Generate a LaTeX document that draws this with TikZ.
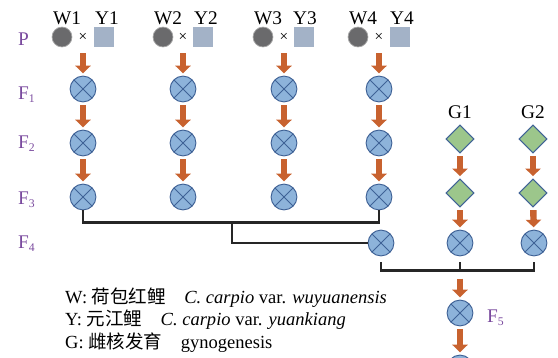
\documentclass[tikz,border=0pt]{standalone}
\usepackage{fontspec}
\setmainfont{Liberation Serif}
\newfontfamily\cjk{Noto Sans CJK SC}
\usepackage{xcolor}
\usepackage{tikz}
\usetikzlibrary{shapes,arrows}
\usetikzlibrary{positioning}
\usetikzlibrary{calc}
\usetikzlibrary{arrows.meta}
\definecolor{xofill}{HTML}{8DB3DA}
\definecolor{xoline}{HTML}{3F6296}
\definecolor{wildc}{HTML}{6A6A6C}
\definecolor{yuanc}{HTML}{A3B2C7}
\definecolor{gynoc}{HTML}{9CC68B}
\definecolor{arrc}{HTML}{C8622F}
\definecolor{genc}{HTML}{7A4A9E}
\newcommand{\gsub}[1]{\raisebox{-0.35ex}{\fontsize{10}{11}\selectfont #1}}
\tikzset{>=stealth}

\begin{document}
\begin{tikzpicture}
	[x=0.03cm,y=-0.03cm,inner sep=0pt,
	hybrid/.style={circle,draw=xoline,fill=xofill,line width=0.8pt,minimum size=22pt,
		path picture={\draw[xoline,line width=0.8pt]
			(path picture bounding box.north west)--(path picture bounding box.south east)
			(path picture bounding box.north east)--(path picture bounding box.south west);}},
	wild/.style={circle,draw=gray!70,fill=wildc,line width=0.6pt,minimum size=17pt},
	yuan/.style={rectangle,fill=yuanc,minimum size=17pt},
	gyno/.style={diamond,draw=xoline,fill=gynoc,line width=0.8pt,minimum size=24pt},
	times/.style={font=\fontsize{13}{14}\selectfont,minimum size=17pt},
	fish/.style={font=\fontsize{16.5}{18}\selectfont},
	gen/.style={anchor=base west,text=genc,font=\fontsize{16.5}{18}\selectfont},
	fwd/.style={draw=arrc,line width=5.5pt,-{Triangle[width=13pt,length=6.5pt]},
		shorten <=2.5pt,shorten >=2pt},
	bracket/.style={draw=black!85,line width=2pt}]
	\clip (0,0) rectangle (558,357);
	% parents
	\node [wild] (w1) at (62,37) {};
	\node [times] (x1) at (83,37) {×};
	\node [yuan] (y1) at (104,37) {};
	\node [wild] (w2) at (163,37) {};
	\node [times] (x2) at (183,37) {×};
	\node [yuan] (y2) at (203,37) {};
	\node [wild] (w3) at (263,37) {};
	\node [times] (x3) at (284,37) {×};
	\node [yuan] (y3) at (304,37) {};
	\node [wild] (w4) at (358,37) {};
	\node [times] (x4) at (379,37) {×};
	\node [yuan] (y4) at (400,37) {};
	\node [fish] (tw1) at (67,18) {W1};
	\node [fish] (ty1) at (107,18) {Y1};
	\node [fish] (tw2) at (168,18) {W2};
	\node [fish] (ty2) at (206,18) {Y2};
	\node [fish] (tw3) at (268,18) {W3};
	\node [fish] (ty3) at (305,18) {Y3};
	\node [fish] (tw4) at (363,18) {W4};
	\node [fish] (ty4) at (402,18) {Y4};
	% generations
	\node [gen] (gp) at (18,45) {P};
	\node [gen] (g1) at (18,99) {F\gsub{1}};
	\node [gen] (g2) at (18,148) {F\gsub{2}};
	\node [gen] (g3) at (18,204) {F\gsub{3}};
	\node [gen] (g4) at (18,248) {F\gsub{4}};
	\node [gen] (g5) at (487,322) {F\gsub{5}};
	% hybrid lines
	\node [hybrid] (c1f1) at (83,89) {};
	\node [hybrid] (c1f2) at (83,143) {};
	\node [hybrid] (c1f3) at (83,197) {};
	\node [hybrid] (c2f1) at (183,89) {};
	\node [hybrid] (c2f2) at (183,143) {};
	\node [hybrid] (c2f3) at (183,197) {};
	\node [hybrid] (c3f1) at (284,89) {};
	\node [hybrid] (c3f2) at (284,143) {};
	\node [hybrid] (c3f3) at (284,197) {};
	\node [hybrid] (c4f1) at (379,89) {};
	\node [hybrid] (c4f2) at (379,143) {};
	\node [hybrid] (c4f3) at (379,197) {};
	\node [hybrid] (f4) at (381,243) {};
	% gynogenesis lines
	\node [fish] (tg1) at (460,112) {G1};
	\node [fish] (tg2) at (533,112) {G2};
	\node [gyno] (d1a) at (460,139) {};
	\node [gyno] (d1b) at (460,193) {};
	\node [gyno] (d2a) at (533,139) {};
	\node [gyno] (d2b) at (533,193) {};
	\node [hybrid] (g1f) at (460,243) {};
	\node [hybrid] (g2f) at (534,243) {};
	\node [hybrid] (f5) at (460,313) {};
	\node [hybrid] (f6) at (460,368) {};
	% arrows
	\draw [fwd,shorten <=5pt] (x1) -- (c1f1);
	\draw [fwd,shorten <=5pt] (x2) -- (c2f1);
	\draw [fwd,shorten <=5pt] (x3) -- (c3f1);
	\draw [fwd,shorten <=5pt] (x4) -- (c4f1);
	\draw [fwd] (c1f1) -- (c1f2);
	\draw [fwd] (c1f2) -- (c1f3);
	\draw [fwd] (c2f1) -- (c2f2);
	\draw [fwd] (c2f2) -- (c2f3);
	\draw [fwd] (c3f1) -- (c3f2);
	\draw [fwd] (c3f2) -- (c3f3);
	\draw [fwd] (c4f1) -- (c4f2);
	\draw [fwd] (c4f2) -- (c4f3);
	\draw [fwd] (d1a) -- (d1b);
	\draw [fwd] (d1b) -- (g1f);
	\draw [fwd] (d2a) -- (d2b);
	\draw [fwd] (d2b) -- (g2f);
	% crosses
	\draw [bracket] (c1f3.south) -- ++(0,12) -| (c4f3.south);
	\coordinate (m1) at (232,222);
	\draw [bracket] (m1) |- (f4.west);
	\draw [bracket] ($(f4.south)+(0,6)$) -- ++(0,8) -| ($(g2f.south)+(0,6)$);
	\draw [bracket] ($(g1f.south)+(0,6)$) -- ++(0,8) coordinate (m2);
	\draw [fwd,shorten <=7pt] (m2) -- (f5);
	\draw [fwd] (f5) -- (f6);
	% legend
	\node [anchor=base west,font=\fontsize{15.8}{18}\selectfont] (lw) at (65,303)
		{W: {\cjk 荷包红鲤}\quad \textit{C. carpio} var. \textit{wuyuanensis}};
	\node [anchor=base west,font=\fontsize{15.8}{18}\selectfont] (ly) at (65,325)
		{Y: {\cjk 元江鲤}\quad \textit{C. carpio} var. \textit{yuankiang}};
	\node [anchor=base west,font=\fontsize{15.8}{18}\selectfont] (lg) at (65,348)
		{G: {\cjk 雌核发育}\quad gynogenesis};
\end{tikzpicture}
\end{document}
